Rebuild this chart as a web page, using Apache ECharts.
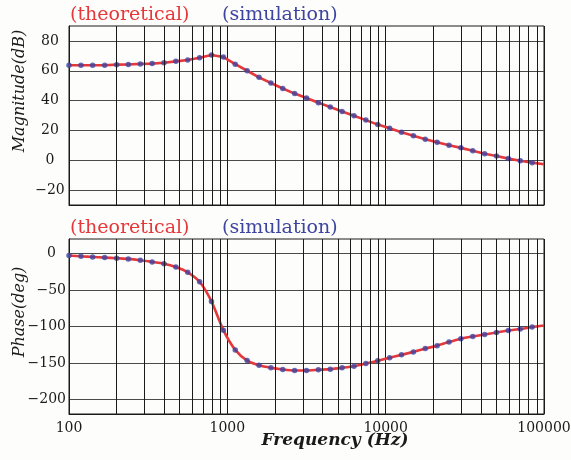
<!DOCTYPE html>
<html>
<head>
<meta charset="utf-8">
<script src="https://cdn.jsdelivr.net/npm/echarts@6/dist/echarts.min.js"></script>
<style>
  html, body { margin: 0; padding: 0; background: #fdfdfb; }
  #chart { width: 571px; height: 460px; }
</style>
</head>
<body>
<div id="chart"></div>
<script>
// Sample frequencies of the simulated response (Hz)
const freqHz = [100, 119, 141, 168, 200, 237, 282, 335, 398, 473, 562, 668, 794, 944,
  1122, 1334, 1585, 1884, 2239, 2661, 3162, 3758, 4467, 5309, 6310, 7499, 8913,
  10593, 12589, 14962, 17783, 21135, 25119, 29854, 35481, 42170, 50119, 59566, 70795, 84140];

// Simulated magnitude (dB) and phase (deg)
const magSim = [63.7, 63.7, 63.7, 63.7, 64.1, 64.2, 64.6, 64.8, 65.4, 66.3, 67.2, 68.7, 70.5, 69.2,
  64.4, 60.0, 55.6, 51.8, 48.1, 44.7, 41.7, 38.6, 35.7, 32.7, 29.8, 26.9, 23.9,
  21.4, 18.8, 16.4, 14.1, 12.1, 10.1, 8.3, 6.3, 4.4, 2.9, 1.1, -0.3, -1.6];
const phaseSim = [-2.7, -3.7, -4.6, -5.5, -6.4, -7.3, -9.1, -11.4, -13.9, -18.5, -25.7, -38.7, -65.6, -105.0,
  -132.1, -146.7, -153.1, -156.6, -158.9, -160.3, -160.3, -159.4, -158.5, -156.6, -154.4, -150.8, -147.1,
  -143.0, -138.9, -134.8, -130.3, -126.3, -121.2, -116.7, -113.6, -110.9, -108.1, -105.4, -103.5, -100.8];

// Theoretical curve, evaluated up to 100 kHz
const freqTheo = [100, 119, 141, 168, 200, 237, 282, 335, 398, 473, 562, 668, 794, 944,
  1122, 1334, 1585, 1884, 2239, 2661, 3162, 3758, 4467, 5309, 6310, 7499, 8913,
  10593, 12589, 14962, 17783, 21135, 25119, 29854, 35481, 42170, 50119, 59566, 70795, 84140, 100000];
const magTheo = [63.7, 63.7, 63.7, 63.7, 64.1, 64.2, 64.6, 64.8, 65.4, 66.3, 67.2, 68.7, 70.5, 69.2,
  64.4, 60.0, 55.6, 51.8, 48.1, 44.7, 41.7, 38.6, 35.7, 32.7, 29.8, 26.9, 23.9,
  21.4, 18.8, 16.4, 14.1, 12.1, 10.1, 8.3, 6.3, 4.4, 2.9, 1.1, -0.3, -1.6, -2.7];
const phaseTheo = [-2.7, -3.7, -4.6, -5.5, -6.4, -7.3, -9.1, -11.4, -13.9, -18.5, -25.7, -38.7, -65.6, -105.0,
  -132.1, -146.7, -153.1, -156.6, -158.9, -160.3, -160.3, -159.4, -158.5, -156.6, -154.4, -150.8, -147.1,
  -143.0, -138.9, -134.8, -130.3, -126.3, -121.2, -116.7, -113.6, -110.9, -108.1, -105.4, -103.5, -100.8, -98.6];

// Axis ticks
const xTicks = [100, 1000, 10000, 100000];
const magTicks = [-20, 0, 20, 40, 60, 80];
const phaseTicks = [-200, -150, -100, -50, 0];

// Minor log-grid positions (2..9 within each decade)
const minorGrid = [];
for (let dec = 100; dec < 100000; dec *= 10) {
  for (let m = 2; m <= 9; m++) minorGrid.push(dec * m);
}

const RED = '#e5383b';
const BLUE = '#3d45a0';
const INK = '#1a1a1a';
const SERIF = '"DejaVu Serif", "Liberation Serif", serif';

const pairs = (xs, ys) => xs.map((x, i) => [x, ys[i]]);
const minus = v => String(v).replace('-', '\u2212');

function xAxisFor(gridIndex, showLabels) {
  return {
    type: 'log', logBase: 10, gridIndex, min: xTicks[0], max: xTicks[xTicks.length - 1],
    axisLine: { show: true, onZero: false, lineStyle: { color: INK, width: 1 } },
    axisTick: { show: false },
    splitLine: { show: true, lineStyle: { color: INK, width: 1 } },
    axisLabel: {
      show: showLabels, margin: 7, color: INK, fontFamily: SERIF, fontSize: 14,
      formatter: v => String(Math.round(v))
    }
  };
}

function yAxisFor(gridIndex, min, max, ticks, align, margin, zeroPad) {
  return {
    type: 'value', gridIndex, min, max,
    axisLine: { show: true, lineStyle: { color: INK, width: 1 } },
    axisTick: { show: false, customValues: ticks },
    splitLine: { show: true, lineStyle: { color: '#4a4a4a', width: 1.2 } },
    axisLabel: {
      customValues: ticks, color: INK, fontFamily: SERIF, fontSize: 14,
      align, margin,
      formatter: v => (v === 0 ? '{z|0}' : minus(v)),
      rich: { z: { fontFamily: SERIF, fontSize: 14, color: INK, padding: [0, zeroPad, 0, 0] } }
    }
  };
}

function minorLines() {
  return {
    silent: true, symbol: 'none', label: { show: false },
    lineStyle: { color: INK, width: 1, type: 'solid' },
    emphasis: { disabled: true },
    data: minorGrid.map(v => ({ xAxis: v }))
  };
}

function legendAt(name, color, left, top) {
  return {
    left, top, padding: 0, itemWidth: 0, itemHeight: 10, icon: 'none',
    data: [{ name, textStyle: { color } }],
    formatter: '({name})',
    textStyle: { fontFamily: SERIF, fontSize: 19, lineHeight: 20 }
  };
}

const chart = echarts.init(document.getElementById('chart'), null, { renderer: 'canvas' });

chart.setOption({
  backgroundColor: '#fdfdfb',
  animation: false,
  legend: [
    legendAt('theoretical', RED, 65, 5),
    legendAt('simulation', BLUE, 217, 5),
    legendAt('theoretical', RED, 65, 218),
    legendAt('simulation', BLUE, 217, 218)
  ],
  grid: [
    { left: 69, right: 27, top: 26, height: 179, show: true, borderColor: INK, borderWidth: 1,
      backgroundColor: 'transparent', outerBoundsMode: 'none' },
    { left: 69, right: 27, top: 239, height: 175, show: true, borderColor: INK, borderWidth: 1,
      backgroundColor: 'transparent', outerBoundsMode: 'none' }
  ],
  xAxis: [xAxisFor(0, false), xAxisFor(1, true)],
  yAxis: [
    yAxisFor(0, -30, 90, magTicks, 'center', 19, 0),
    yAxisFor(1, -220, 20, phaseTicks, 'right', 3, 10)
  ],
  graphic: [
    {
      type: 'text', x: 20, y: 91, rotation: Math.PI / 2,
      style: { text: 'Magnitude(dB)', fill: INK, font: 'italic 16px ' + SERIF, textAlign: 'center', textVerticalAlign: 'middle' }
    },
    {
      type: 'text', x: 20, y: 312, rotation: Math.PI / 2,
      style: { text: 'Phase(deg)', fill: INK, font: 'italic 16px ' + SERIF, textAlign: 'center', textVerticalAlign: 'middle' }
    },
    {
      type: 'text', x: 335, y: 441,
      style: { text: 'Frequency (Hz)', fill: INK, font: 'italic bold 17px ' + SERIF, textAlign: 'center', textVerticalAlign: 'middle' }
    }
  ],
  series: [
    {
      name: 'grid-minor-top', type: 'line', xAxisIndex: 0, yAxisIndex: 0, data: [], z: 1,
      markLine: minorLines()
    },
    {
      name: 'grid-minor-bottom', type: 'line', xAxisIndex: 1, yAxisIndex: 1, data: [], z: 1,
      markLine: minorLines()
    },
    {
      name: 'theoretical', type: 'line', xAxisIndex: 0, yAxisIndex: 0, z: 3,
      data: pairs(freqTheo, magTheo), showSymbol: false, smooth: false,
      lineStyle: { color: RED, width: 2.6 }, itemStyle: { color: RED }
    },
    {
      name: 'simulation', type: 'scatter', xAxisIndex: 0, yAxisIndex: 0, z: 4,
      data: pairs(freqHz, magSim), symbolSize: 5.5, itemStyle: { color: BLUE }
    },
    {
      name: 'theoretical', type: 'line', xAxisIndex: 1, yAxisIndex: 1, z: 3,
      data: pairs(freqTheo, phaseTheo), showSymbol: false, smooth: 0.25,
      lineStyle: { color: RED, width: 2.6 }, itemStyle: { color: RED }
    },
    {
      name: 'simulation', type: 'scatter', xAxisIndex: 1, yAxisIndex: 1, z: 4,
      data: pairs(freqHz, phaseSim), symbolSize: 5.5, itemStyle: { color: BLUE }
    }
  ]
});
</script>
</body>
</html>
